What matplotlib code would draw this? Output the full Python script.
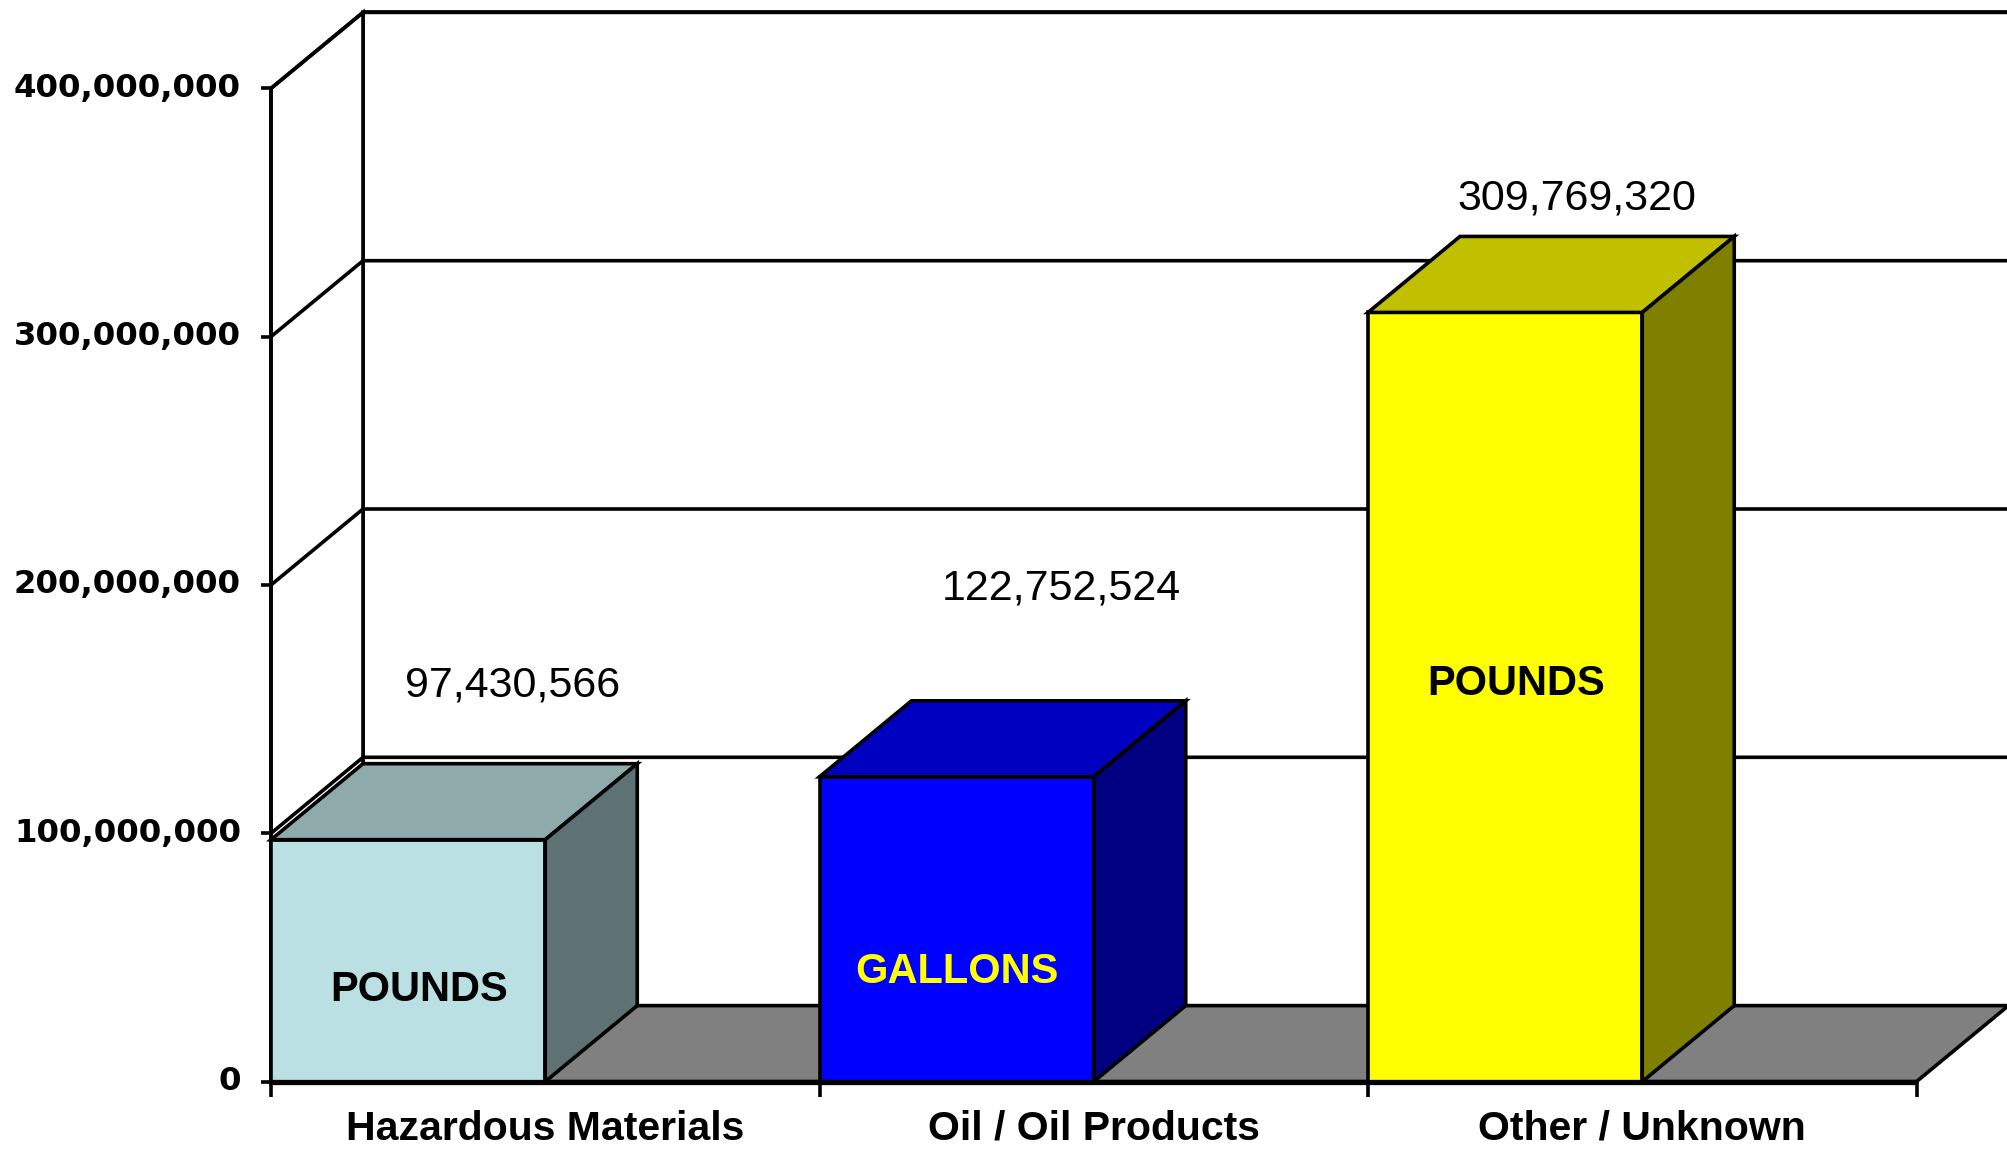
import matplotlib
matplotlib.use("Agg")
import matplotlib.pyplot as plt
from matplotlib.patches import Polygon

# ---- data ----
categories = ["Hazardous Materials", "Oil / Oil Products", "Other / Unknown"]
values = [97430566, 122752524, 309769320]
units = ["POUNDS", "GALLONS", "POUNDS"]
y_ticks = [0, 100_000_000, 200_000_000, 300_000_000, 400_000_000]

# ---- style ----
front_colors = ["#BBE0E3", "#0000FF", "#FFFF00"]
top_colors = ["#8FAAAB", "#0000C0", "#C0C000"]
side_colors = ["#5F7273", "#000080", "#808000"]
unit_colors = ["black", "#FFFF00", "black"]
FLOOR = "#808080"
FONTS = ["Liberation Sans", "DejaVu Sans"]

# layout (pixels of a 2007x1156 canvas)
W, H = 2007, 1156
X0_PX, CAT_PX = 271, 548.5          # front y-axis position, width of one category
Y0_PX, VAL_PX = 74.4, 248.3 / 1e8   # zero line from bottom, pixels per unit
DX = 92 / CAT_PX                    # depth offset in category units
DY = 76 / VAL_PX                    # depth offset in value units
BAR_W = 0.5
LW = 2.6

# text anchors (x offset inside category, y offset above value) -- layout only
value_label_dx = [0.44, 0.44, 0.38]
value_label_dy = [62e6, 76e6, 46e6]
unit_label_y = [37e6, 44e6, 160e6]

fig = plt.figure(figsize=(W / 100, H / 100), dpi=100)
ax = fig.add_axes([0, 0, 1, 1])
ax.set_xlim(-X0_PX / CAT_PX, (W - X0_PX) / CAT_PX)
ax.set_ylim(-Y0_PX / VAL_PX, (H - Y0_PX) / VAL_PX)
ax.axis("off")

n = len(categories)
ymax = y_ticks[-1]


def poly(pts, fc, z, lw=LW):
    ax.add_patch(Polygon(pts, closed=True, facecolor=fc, edgecolor="black",
                         linewidth=lw, joinstyle="miter", zorder=z))


def line(xs, ys, z=2, lw=LW):
    ax.plot(xs, ys, color="black", linewidth=lw, solid_capstyle="butt", zorder=z)


# back wall
poly([(DX, DY), (n + DX, DY), (n + DX, ymax + DY), (DX, ymax + DY)], "white", 1)
# left wall
poly([(0, 0), (DX, DY), (DX, ymax + DY), (0, ymax)], "white", 1)
# floor
poly([(0, 0), (n, 0), (n + DX, DY), (DX, DY)], FLOOR, 1.5)

# gridlines on back and left walls
for t in y_ticks[1:]:
    line([0, DX, n + DX], [t, t + DY, t + DY])

# front axes
line([0, 0], [0, ymax], z=2)
line([0, n], [0, 0], z=6, lw=3.8)
for t in y_ticks:
    line([-10 / CAT_PX, 0], [t, t], z=6)
    ax.text(-30 / CAT_PX, t, f"{t:,}", ha="right", va="center", fontsize=23.3,
            fontweight="bold", family=["DejaVu Sans"])
for i in range(n + 1):
    line([i, i], [0, -15 / VAL_PX], z=6)

for i, cat in enumerate(categories):
    ax.text(i + 0.5, -19e6, cat, ha="center", va="center", fontsize=29.5,
            fontweight="bold", family=FONTS)

# bars
for i, v in enumerate(values):
    x0, x1 = i, i + BAR_W
    z = 3 + i * 0.1
    poly([(x0, 0), (x1, 0), (x1, v), (x0, v)], front_colors[i], z)
    poly([(x0, v), (x1, v), (x1 + DX, v + DY), (x0 + DX, v + DY)], top_colors[i], z)
    poly([(x1, 0), (x1 + DX, DY), (x1 + DX, v + DY), (x1, v)], side_colors[i], z)

    ax.text(i + value_label_dx[i], v + value_label_dy[i], f"{v:,}", ha="center",
            va="center", fontsize=31, family=FONTS, zorder=8)
    ax.text(i + BAR_W / 2 + 0.02 * (i != 1), unit_label_y[i], units[i], ha="center",
            va="center", fontsize=30, fontweight="bold", color=unit_colors[i],
            family=FONTS, zorder=8)

fig.savefig("out.png", dpi=100, facecolor="white")
